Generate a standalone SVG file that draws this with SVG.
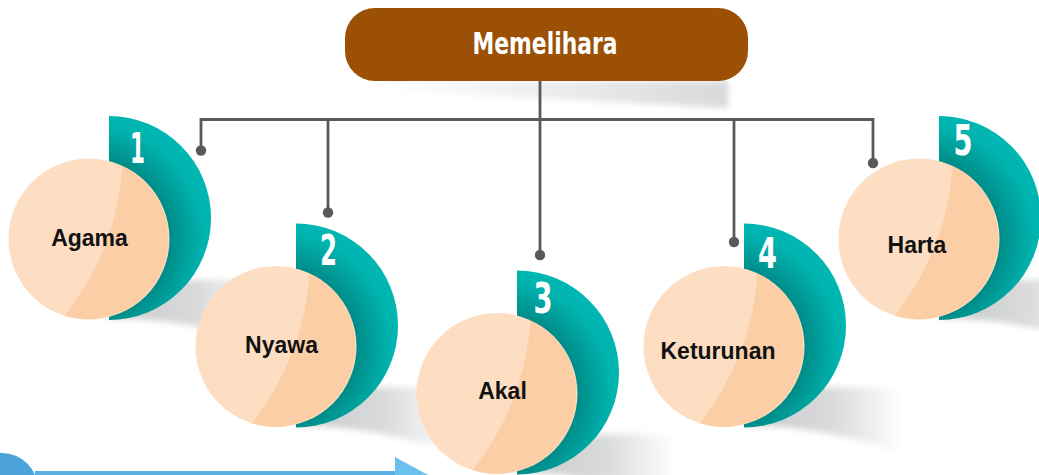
<svg xmlns="http://www.w3.org/2000/svg" width="1039" height="475" viewBox="0 0 1039 475">
  <defs>
    <radialGradient id="tealGrad" gradientUnits="userSpaceOnUse" cx="-20" cy="21" r="130">
      <stop offset="0" stop-color="#007f7a"/>
      <stop offset="0.62" stop-color="#008c88"/>
      <stop offset="0.74" stop-color="#009e9a"/>
      <stop offset="0.88" stop-color="#00b3af"/>
      <stop offset="1" stop-color="#00b7b3"/>
    </radialGradient>
    <linearGradient id="shadowGrad" x1="0" y1="0" x2="1" y2="0">
      <stop offset="0" stop-color="#c8c9ca"/>
      <stop offset="0.55" stop-color="#d9dadb"/>
      <stop offset="1" stop-color="#ffffff"/>
    </linearGradient>
    <linearGradient id="boxShadowGrad" x1="0" y1="0" x2="1" y2="0">
      <stop offset="0" stop-color="#ffffff"/>
      <stop offset="0.5" stop-color="#ececec"/>
      <stop offset="1" stop-color="#d9d9d9"/>
    </linearGradient>
    <filter id="soft" x="-20%" y="-30%" width="140%" height="160%">
      <feGaussianBlur stdDeviation="3"/>
    </filter>
    <path id="teal" d="M0,-102 A102,102 0 0 1 0,102 Z"/>
    <path id="shade" d="M30,62 L159,62 L159,128 Q80,100 0,100 Z"/>
  </defs>
  <style>
    .teal { fill: url(#tealGrad); }
    .peach { fill: #fddec3; }
    .peach2 { fill: #fbcea6; }
    .num { font-family: "Liberation Sans Narrow", "DejaVu Sans Condensed", sans-serif; font-weight: bold; font-size: 42px; fill: #ffffff; text-anchor: middle; }
    .label { font-family: "Liberation Sans", Arial, sans-serif; font-weight: bold; font-size: 23px; fill: #111111; text-anchor: middle; }
    .title { font-family: "Liberation Sans Narrow", "DejaVu Sans Condensed", sans-serif; font-weight: bold; font-size: 31px; fill: #ffffff; text-anchor: middle; }
    .conn { fill: none; stroke: #58595b; stroke-width: 2.8; }
    .dot { fill: #58595b; }
    .shadow { fill: url(#shadowGrad); filter: url(#soft); }
  </style>

  <!-- shadows -->
  <g id="shadows">
    <polygon points="378,81 728,81 728,108 378,90" fill="url(#boxShadowGrad)" filter="url(#soft)"/>
    <use href="#shade" class="shadow" transform="translate(109,218)"/>
    <use href="#shade" class="shadow" transform="translate(296,325.5)"/>
    <use href="#shade" class="shadow" transform="translate(517,372.5)"/>
    <use href="#shade" class="shadow" transform="translate(744,325.5)"/>
    <use href="#shade" class="shadow" transform="translate(939,218)"/>
  </g>

  <!-- bottom-left decoration -->
  <g id="decor">
    <circle cx="2" cy="488.75" r="35.75" fill="#4ca3da"/>
    <rect x="35" y="471" width="360" height="4" fill="#5bafe2"/>
    <polygon points="395,457 428,475 395,475" fill="#6ac2ec"/>
  </g>

  <!-- connectors -->
  <g id="connectors">
    <line class="conn" x1="540" y1="81" x2="540" y2="255"/>
    <polyline class="conn" points="201,150 201,119.5 873,119.5 873,163"/>
    <line class="conn" x1="328" y1="119.5" x2="328" y2="212.5"/>
    <line class="conn" x1="734" y1="119.5" x2="734" y2="242"/>
    <circle class="dot" cx="201" cy="150.5" r="5.2"/>
    <circle class="dot" cx="328" cy="212.5" r="5.2"/>
    <circle class="dot" cx="540" cy="255" r="5.2"/>
    <circle class="dot" cx="734" cy="242" r="5.2"/>
    <circle class="dot" cx="873" cy="163" r="5.2"/>
  </g>

  <!-- top node -->
  <g id="node-memelihara">
    <rect x="345" y="8" width="403" height="73" rx="30" ry="30" fill="#9b5006"/>
    <text class="title" x="545" y="54" textLength="145" lengthAdjust="spacingAndGlyphs">Memelihara</text>
  </g>

  <g id="node-1" transform="translate(109,218)">
    <use href="#teal" class="teal"/>
    <circle class="peach" cx="-20" cy="21" r="80.5"/>
    <path class="peach2" d="M13.5,-52 A80.5,80.5 0 0 1 -44.5,97.7 Q7.5,32 13.5,-52 Z"/>
    <text class="num" x="28.5" y="-55" textLength="15" lengthAdjust="spacingAndGlyphs">1</text>
    <text class="label" x="-19.5" y="28">Agama</text>
  </g>

  <g id="node-2" transform="translate(296,325.5)">
    <use href="#teal" class="teal"/>
    <circle class="peach" cx="-20" cy="21" r="80.5"/>
    <path class="peach2" d="M13.5,-52 A80.5,80.5 0 0 1 -44.5,97.7 Q7.5,32 13.5,-52 Z"/>
    <text class="num" x="32.5" y="-60.5" textLength="17" lengthAdjust="spacingAndGlyphs">2</text>
    <text class="label" x="-14.5" y="27.5">Nyawa</text>
  </g>

  <g id="node-3" transform="translate(517,372.5)">
    <use href="#teal" class="teal"/>
    <circle class="peach" cx="-20" cy="21" r="80.5"/>
    <path class="peach2" d="M13.5,-52 A80.5,80.5 0 0 1 -44.5,97.7 Q7.5,32 13.5,-52 Z"/>
    <text class="num" x="26" y="-59.5" textLength="19" lengthAdjust="spacingAndGlyphs">3</text>
    <text class="label" x="-14.5" y="26.5">Akal</text>
  </g>

  <g id="node-4" transform="translate(744,325.5)">
    <use href="#teal" class="teal"/>
    <circle class="peach" cx="-20" cy="21" r="80.5"/>
    <path class="peach2" d="M13.5,-52 A80.5,80.5 0 0 1 -44.5,97.7 Q7.5,32 13.5,-52 Z"/>
    <text class="num" x="23.5" y="-57.5" textLength="19" lengthAdjust="spacingAndGlyphs">4</text>
    <text class="label" x="-26" y="33.5">Keturunan</text>
  </g>

  <g id="node-5" transform="translate(939,218)">
    <use href="#teal" class="teal"/>
    <circle class="peach" cx="-20" cy="21" r="80.5"/>
    <path class="peach2" d="M13.5,-52 A80.5,80.5 0 0 1 -44.5,97.7 Q7.5,32 13.5,-52 Z"/>
    <text class="num" x="24" y="-63" textLength="19" lengthAdjust="spacingAndGlyphs">5</text>
    <text class="label" x="-22" y="35">Harta</text>
  </g>
</svg>
